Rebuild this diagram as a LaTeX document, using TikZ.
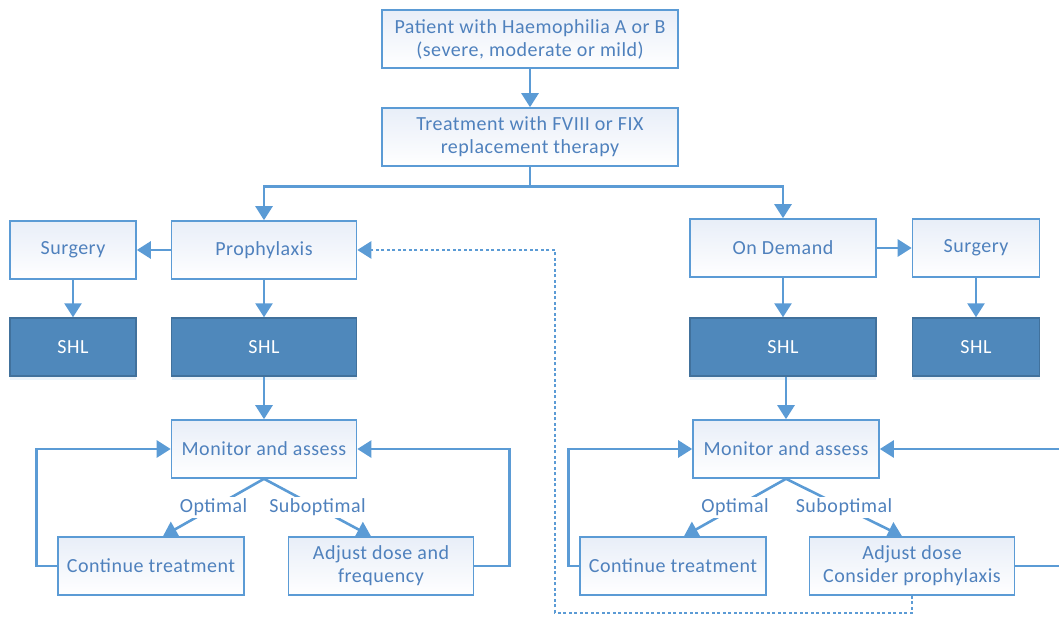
\documentclass[tikz,border=0pt]{standalone}
\usepackage{fontspec}
\setmainfont{Carlito}[LetterSpace=2.5]
\usetikzlibrary{arrows.meta,calc,shadows}
\definecolor{lineblue}{RGB}{91,155,213}
\definecolor{textblue}{RGB}{79,129,189}
\definecolor{shlfill}{RGB}{79,136,187}
\definecolor{shlline}{RGB}{65,113,156}
\definecolor{boxtint}{RGB}{232,238,248}

\begin{document}
\begin{tikzpicture}[x=1pt,y=-1pt,
    font=\fontsize{20}{23}\selectfont,
    flowbox/.style={draw=lineblue, line width=1.6pt, text=textblue,
        top color=boxtint, bottom color=white, align=center,
        minimum width=#1, minimum height=58pt, inner sep=0pt},
    flowbox/.default=186pt,
    shlbox/.style={draw=shlline, line width=1.4pt, fill=shlfill, text=white,
        minimum width=#1, minimum height=58pt, inner sep=0pt,
        drop shadow={shadow xshift=0pt, shadow yshift=-4pt, opacity=0.12, fill=lineblue}},
    shlbox/.default=186pt,
    link/.style={draw=lineblue, line width=2.6pt,
        -{Triangle[width=17pt,length=14pt]}},
    dotlink/.style={link, dash pattern=on 3pt off 2.5pt, line width=2.4pt},
    lbl/.style={fill=white, text=textblue, inner sep=2pt}]
    \useasboundingbox (0,0) rectangle (1059,617);

    % top of the chart
    \node[flowbox=296pt] (pat) at (530,39) {Patient with Haemophilia A or B\\(severe, moderate or mild)};
    \node[flowbox=296pt] (treat) at (530,137) {Treatment with FVIII or FIX\\replacement therapy};

    % prophylaxis branch
    \node[flowbox=185pt] (proph) at (264,250) {Prophylaxis};
    \node[flowbox=126pt] (surgL) at (73,250) {Surgery};
    \node[shlbox=126pt] (shlL) at (73,347) {SHL};
    \node[shlbox=185pt] (shlP) at (264,347) {SHL};
    \node[flowbox=185pt] (monL) at (264,449) {Monitor and assess};
    \node[flowbox] (contL) at (151,566) {Continue treatment};
    \node[flowbox=185pt] (adjL) at (381,566) {Adjust dose and\\frequency};

    % on demand branch
    \node[flowbox] (dem) at (783,248) {On Demand};
    \node[flowbox=127pt] (surgR) at (976,248) {Surgery};
    \node[shlbox] (shlD) at (783,347) {SHL};
    \node[shlbox=127pt] (shlR) at (976,347) {SHL};
    \node[flowbox] (monR) at (786,449) {Monitor and assess};
    \node[flowbox] (contR) at (673,566) {Continue treatment};
    \node[flowbox=205pt] (adjR) at (912,566) {Adjust dose\\Consider prophylaxis};

    \coordinate (split) at ($(treat.south)+(0,20)$);

    \draw[link] (pat) -- (treat);
    \draw[link] (treat.south) -- (split) -| (proph.north);
    \draw[link] (split) -| (dem.north);

    \draw[link] (proph) -- (surgL);
    \draw[link] (surgL) -- (shlL);
    \draw[link] (proph) -- (shlP);
    \draw[link] (shlP) -- (monL);
    \draw[link] (monL.south) -- node[lbl]{Optimal} ($(contL.north)+(12,0)$);
    \draw[link] (monL.south) -- node[lbl]{Suboptimal} ($(adjL.north)+(-10,0)$);
    \draw[link] (contL.west) -| ++(-21,-117) -- (monL.west);
    \draw[link] (adjL.east) -| ++(35,-117) -- (monL.east);

    \draw[link] (dem) -- (surgR);
    \draw[link] (surgR) -- (shlR);
    \draw[link] (dem) -- (shlD);
    \draw[link] (shlD.south -| monR.north) -- (monR.north);
    \draw[link] (monR.south) -- node[lbl]{Optimal} ($(contR.north)+(11,0)$);
    \draw[link] (monR.south) -- node[lbl]{Suboptimal} ($(adjR.north)+(-10,0)$);
    \draw[link] (contR.west) -| ++(-11,-117) -- (monR.west);
    \draw[link] (adjR.east) -| ++(70,-117) -- (monR.east);

    % switch to prophylaxis
    \draw[dotlink] (adjR.south) -- ++(0,17) -| (555,250) -- (proph.east);
\end{tikzpicture}
\end{document}
